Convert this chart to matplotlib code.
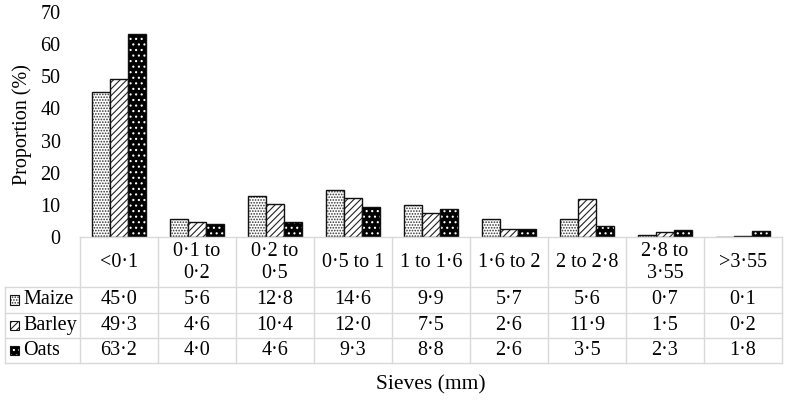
import matplotlib
matplotlib.use("Agg")
import matplotlib.pyplot as plt
from matplotlib.patches import Rectangle
import numpy as np

# --- Data ---
sieves = ["<0·1", "0·1 to\n0·2", "0·2 to\n0·5", "0·5 to 1", "1 to 1·6",
          "1·6 to 2", "2 to 2·8", "2·8 to\n3·55", ">3·55"]
maize = [45.0, 5.6, 12.8, 14.6, 9.9, 5.7, 5.6, 0.7, 0.1]
barley = [49.3, 4.6, 10.4, 12.0, 7.5, 2.6, 11.9, 1.5, 0.2]
oats = [63.2, 4.0, 4.6, 9.3, 8.8, 2.6, 3.5, 2.3, 1.8]
series_names = ["Maize", "Barley", "Oats"]

plt.rcParams["font.family"] = ["Liberation Serif", "DejaVu Serif"]
plt.rcParams["hatch.linewidth"] = 0.8

W, H = 787, 403
fig = plt.figure(figsize=(W / 100, H / 100), dpi=100)

# plot area in pixels
px_left, px_right = 80, 782
px_top, px_zero = 12, 237

ax = fig.add_axes([px_left / W, 1 - px_zero / H,
                   (px_right - px_left) / W, (px_zero - px_top) / H])

n = len(sieves)
x = np.arange(n) + 0.5
bw = 0.227

# series styles
styles = {
    "Maize": dict(face="white", hatch="......", hcolor="#333333"),
    "Barley": dict(face="white", hatch="/////", hcolor="#222222"),
    "Oats": dict(face="black", hatch="...", hcolor="white"),
}


def draw_bars(axis, xs, vals, name, width):
    st = styles[name]
    axis.bar(xs, vals, width, color=st["face"], edgecolor=st["hcolor"],
             hatch=st["hatch"], linewidth=0)
    axis.bar(xs, vals, width, fill=False, edgecolor="#111111", linewidth=1.0)


for k, (name, vals) in enumerate(zip(series_names, [maize, barley, oats])):
    draw_bars(ax, x + (k - 1) * bw, vals, name, bw)

ax.set_xlim(0, n)
ax.set_ylim(0, 70)
ax.set_yticks(range(0, 71, 10))
ax.set_xticks([])
for s in ax.spines.values():
    s.set_visible(False)
ax.tick_params(axis="y", length=0, pad=14, labelsize=14.5)
ax.set_ylabel("Proportion (%)", fontsize=14.5, labelpad=6)

# --- Data table ---
tb_left, tb_top, tb_bottom = 5, 237, 363
tax = fig.add_axes([tb_left / W, 1 - tb_bottom / H,
                    (px_right - tb_left) / W, (tb_bottom - tb_top) / H])
cat_w = (px_right - px_left) / n
lab_w = (px_left - tb_left) / cat_w
tax.set_xlim(-lab_w, n)
row_h = [50, 25, 25, 25]
tot = sum(row_h)
tax.set_ylim(tot, 0)
tax.axis("off")

grid_c = "#d9d9d9"
# horizontal lines
ys = np.cumsum([0] + row_h)
for i, yv in enumerate(ys):
    x0 = 0 if i == 0 else -lab_w
    tax.plot([x0, n], [yv, yv], color=grid_c, lw=1, clip_on=False)
# vertical lines
tax.plot([-lab_w, -lab_w], [row_h[0], tot], color=grid_c, lw=1, clip_on=False)
for j in range(n + 1):
    tax.plot([j, j], [0, tot], color=grid_c, lw=1, clip_on=False)

for j, lab in enumerate(sieves):
    tax.text(j + 0.5, row_h[0] / 2, lab, ha="center", va="center",
             fontsize=14.5, linespacing=1.2)

table_vals = [maize, barley, oats]
for r, (name, vals) in enumerate(zip(series_names, table_vals)):
    yc = ys[r + 1] + row_h[r + 1] / 2
    # legend key
    kx = -lab_w + 0.06
    st = styles[name]
    ks = 0.115
    tax.add_patch(Rectangle((kx, yc - 4.5), ks, 9, facecolor=st["face"],
                            edgecolor=st["hcolor"], hatch=st["hatch"], lw=0))
    tax.add_patch(Rectangle((kx, yc - 4.5), ks, 9, fill=False,
                            edgecolor="#111111", lw=0.8))
    tax.text(kx + ks + 0.06, yc, name, ha="left", va="center", fontsize=14.5)
    for j, v in enumerate(vals):
        tax.text(j + 0.5, yc, f"{v:.1f}".replace(".", "·"), ha="center",
                 va="center", fontsize=14.5)

fig.text((px_left + px_right) / 2 / W, 1 - 385 / H, "Sieves (mm)",
         ha="center", va="center", fontsize=15.5)

fig.savefig("out.png", dpi=100)
